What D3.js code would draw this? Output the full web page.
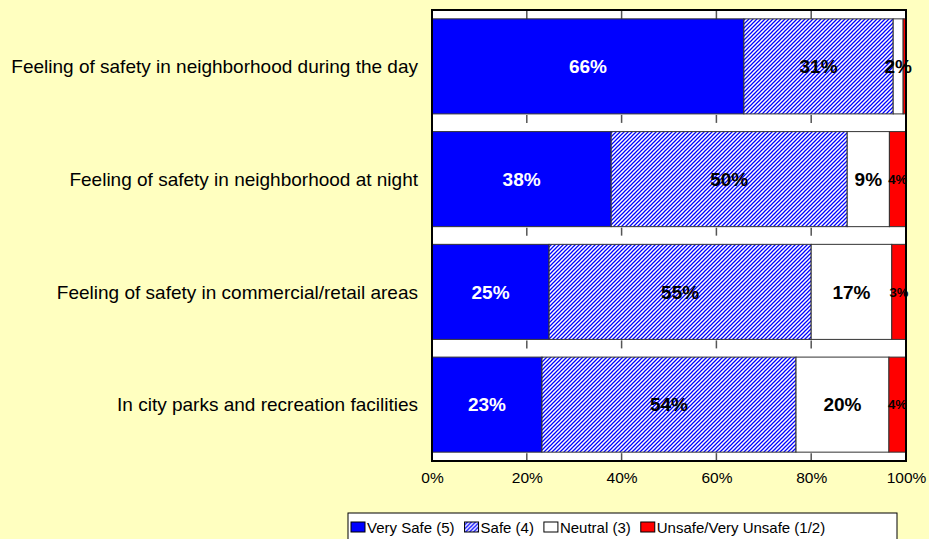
<!DOCTYPE html>
<html>
<head>
<meta charset="utf-8">
<script src="https://cdn.jsdelivr.net/npm/d3@7"></script>
<style>
body{margin:0;background:#ffffc0;}
svg{display:block;font-family:Arial,"Liberation Sans",sans-serif;}
</style>
</head>
<body>
<div id="chart"></div>
<script>
// survey data, percent of respondents
var categories=["Feeling of safety in neighborhood during the day",
    "Feeling of safety in neighborhood at night",
    "Feeling of safety in commercial/retail areas",
    "In city parks and recreation facilities"]
var seriesNames=["Very Safe (5)","Safe (4)","Neutral (3)","Unsafe/Very Unsafe (1/2)"]
var verySafe=[65.8,37.8,24.7,23.2]
var safe=[31.5,49.8,55.3,53.6]
var neutral=[2.1,8.9,17.0,19.6]
var unsafe=[0.6,3.5,3.0,3.6]
var verySafeLabels=["66%","38%","25%","23%"]
var safeLabels=["31%","50%","55%","54%"]
var neutralLabels=["2%","9%","17%","20%"]
var unsafeLabels=["","4%","3%","4%"]
var xTicks=[0,20,40,60,80,100]

var svgWidth=929
var svgHeight=539
var plot={left:432,top:10,right:906,bottom:461}

var svg=d3.select("#chart").append("svg")
    .attr("width",svgWidth)
    .attr("height",svgHeight)

svg.append("rect").attr("width",svgWidth).attr("height",svgHeight).attr("fill","#ffffc0")

var defs=svg.append("defs")
var pat=defs.append("pattern")
    .attr("id","hatch")
    .attr("patternUnits","userSpaceOnUse")
    .attr("width",4).attr("height",4)
pat.append("rect").attr("width",4).attr("height",4).attr("fill","white")
pat.append("path")
    .attr("d","M-1,1 l2,-2 M0,4 l4,-4 M3,5 l2,-2")
    .attr("stroke","#0000ff").attr("stroke-width",1.25)

var colors=["#0000ff","url(#hatch)","#ffffff","#ff0000"]

var xScale=d3.scaleLinear().domain([0,100]).range([plot.left,plot.right])
var yScale=d3.scaleBand().domain(categories)
    .range([plot.top,plot.bottom])
    .paddingInner(0.157).paddingOuter(0.0785)

// plot area
svg.append("rect")
    .attr("x",plot.left).attr("y",plot.top)
    .attr("width",plot.right-plot.left).attr("height",plot.bottom-plot.top)
    .attr("fill","white")

// short tick marks in the gaps between bars
var gapTops=[plot.top].concat(categories.map(c=>yScale(c)+yScale.bandwidth()))
var tickMarks=[]
gapTops.forEach(g=>xTicks.slice(1,-1).forEach(t=>tickMarks.push({g:g,t:t})))
svg.append("g").selectAll("line")
    .data(tickMarks)
    .enter().append("line")
    .attr("x1",d=>xScale(d.t)).attr("x2",d=>xScale(d.t))
    .attr("y1",d=>d.g+1).attr("y2",d=>Math.min(d.g+9,plot.bottom))
    .attr("stroke","#555").attr("stroke-width",1.5)

var rows=categories.map((c,i)=>({cat:c,vals:[verySafe[i],safe[i],neutral[i],unsafe[i]],
    labels:[verySafeLabels[i],safeLabels[i],neutralLabels[i],unsafeLabels[i]]}))

var segs=[]
rows.forEach(r=>{
    var start=0
    r.vals.forEach((v,j)=>{
        segs.push({cat:r.cat,x0:start,x1:start+v,s:j,label:r.labels[j]})
        start+=v
    })
})

svg.append("g").selectAll("rect")
    .data(segs)
    .enter().append("rect")
    .attr("x",d=>xScale(d.x0))
    .attr("y",d=>yScale(d.cat))
    .attr("width",d=>xScale(d.x1)-xScale(d.x0))
    .attr("height",yScale.bandwidth())
    .attr("fill",d=>colors[d.s])
    .attr("stroke","#333")
    .attr("stroke-width",1)

svg.append("g").selectAll("text")
    .data(segs)
    .enter().append("text")
    .attr("x",d=>xScale((d.x0+d.x1)/2))
    .attr("y",d=>yScale(d.cat)+yScale.bandwidth()/2)
    .attr("dy","0.36em")
    .attr("text-anchor","middle")
    .attr("font-weight","bold")
    .attr("font-size",d=>d.s==3?"13px":"19px")
    .attr("fill",d=>d.s==0?"white":"black")
    .text(d=>d.label)

// plot border
svg.append("rect")
    .attr("x",plot.left).attr("y",plot.top)
    .attr("width",plot.right-plot.left).attr("height",plot.bottom-plot.top)
    .attr("fill","none").attr("stroke","black").attr("stroke-width",2)

// category labels
svg.append("g").selectAll("text")
    .data(categories)
    .enter().append("text")
    .attr("x",418)
    .attr("y",d=>yScale(d)+yScale.bandwidth()/2)
    .attr("dy","0.36em")
    .attr("text-anchor","end")
    .attr("font-size","19px")
    .text(d=>d)

// x axis labels
var xAxis=d3.axisBottom(xScale).tickValues(xTicks).tickSize(0).tickPadding(11).tickFormat(d=>d+"%")
var gx=svg.append("g").attr("transform",`translate(0,${plot.bottom})`).call(xAxis)
gx.select(".domain").remove()
gx.selectAll("text").attr("font-size","15.5px").attr("font-family","Arial,'Liberation Sans',sans-serif").attr("fill","black")

// legend, items laid out one after another
var legend=svg.append("g").attr("transform","translate(348,513)")
legend.append("rect").attr("width",549).attr("height",30)
    .attr("fill","white").attr("stroke","black").attr("stroke-width",1)
var lx=3
seriesNames.forEach((name,i)=>{
    var item=legend.append("g").attr("transform",`translate(${lx},0)`)
    item.append("rect").attr("x",0).attr("y",9).attr("width",14).attr("height",10)
        .attr("fill",colors[i]).attr("stroke","black").attr("stroke-width",1)
    var t=item.append("text").attr("x",16).attr("y",20).attr("font-size","15px").text(name)
    lx+=16+t.node().getComputedTextLength()+10
})
</script>
</body>
</html>
